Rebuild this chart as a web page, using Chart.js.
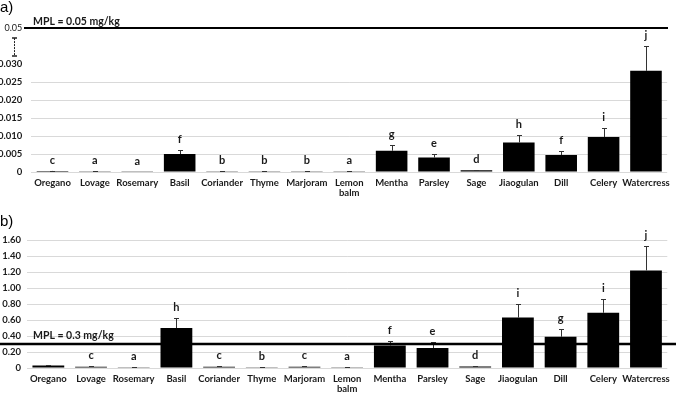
<!DOCTYPE html>
<html>
<head>
<meta charset="utf-8">
<script src="https://cdn.jsdelivr.net/npm/chart.js@4.4.0/dist/chart.umd.min.js"></script>
<style>
  body { margin: 0; background: #fff; width: 676px; height: 394px; overflow: hidden; position: relative; }
  canvas { position: absolute; left: 0; }
  #chartA { top: 0; }
  #chartB { top: 200px; }
</style>
</head>
<body>
<canvas id="chartA" width="676" height="200"></canvas>
<canvas id="chartB" width="676" height="194"></canvas>
<script>
// ====================================================
//  DATA
// ====================================================
const herbs = ["Oregano", "Lovage", "Rosemary", "Basil", "Coriander", "Thyme", "Marjoram",
  ["Lemon", "balm"], "Mentha", "Parsley", "Sage", "Jiaogulan", "Dill", "Celery", "Watercress"];

// a) mg/kg (broken axis: the 0.05 limit sits at 0.04 on the drawn scale)
const valuesA = [0.0003, 0.0001, 0.00005, 0.0050, 0.0002, 0.0002, 0.0002, 0.0001, 0.0059, 0.0040, 0.0005, 0.0082, 0.0047, 0.0097, 0.0281];
const errorsA = [0.0001, 0.0001, 0, 0.0012, 0.0001, 0.0001, 0.0001, 0.0001, 0.0017, 0.0010, 0.0001, 0.0021, 0.0012, 0.0024, 0.0069];
const lettersA = ["c", "a", "a", "f", "b", "b", "b", "a", "g", "e", "d", "h", "f", "i", "j"];
const ticksA = [0, 0.005, 0.010, 0.015, 0.020, 0.025, 0.030, 0.04];
const tickLabelsA = ["0", "0.005", "0.010", "0.015", "0.020", "0.025", "0.030", "0.05"];
const mplPosA = 0.04;
const mplTextA = "MPL = 0.05 mg/kg";

// b) mg/kg
const valuesB = [0.03, 0.016, 0.008, 0.50, 0.015, 0.008, 0.015, 0.008, 0.28, 0.25, 0.02, 0.63, 0.39, 0.69, 1.22];
const errorsB = [0.005, 0.004, 0.002, 0.12, 0.004, 0.003, 0.004, 0.002, 0.06, 0.07, 0.005, 0.17, 0.10, 0.17, 0.31];
const lettersB = ["", "c", "a", "h", "c", "b", "c", "a", "f", "e", "d", "i", "g", "i", "j"];
const ticksB = [0, 0.2, 0.4, 0.6, 0.8, 1.0, 1.2, 1.4, 1.6];
const tickLabelsB = ["0", "0.20", "0.40", "0.60", "0.80", "1.00", "1.20", "1.40", "1.60"];
const mplPosB = 0.3;
const mplTextB = "MPL = 0.3 mg/kg";

// ----------------------------------------------------
const FONT = "Lato, 'Open Sans', sans-serif";
const TXT = "#1a1a1a";
const GRID = "#d9d9d9";

// error bars, letters, MPL line, panel tag
function overlay(o) {
  return {
    id: "overlay",
    afterDatasetsDraw(chart) {
      const ctx = chart.ctx;
      const x = chart.scales.x, y = chart.scales.y;
      const vals = chart.data.datasets[0].data;
      ctx.save();

      ctx.strokeStyle = "#333";
      ctx.lineWidth = 1;
      vals.forEach((v, i) => {
        const e = o.errors[i];
        if (!e) return;
        const cx = Math.round(x.getPixelForValue(i)) + 0.5;
        const y0 = y.getPixelForValue(v);
        const y1 = Math.round(y.getPixelForValue(v + e)) + 0.5;
        ctx.beginPath();
        ctx.moveTo(cx, y0);
        ctx.lineTo(cx, y1);
        ctx.moveTo(cx - 2.5, y1);
        ctx.lineTo(cx + 2.5, y1);
        ctx.stroke();
      });

      ctx.fillStyle = TXT;
      ctx.font = "bold 11px " + FONT;
      ctx.textAlign = "center";
      ctx.textBaseline = "alphabetic";
      vals.forEach((v, i) => {
        if (!o.letters[i]) return;
        const top = y.getPixelForValue(v + (o.errors[i] || 0));
        ctx.fillText(o.letters[i], x.getPixelForValue(i), top - o.letterGap);
      });

      // MPL line
      const my = y.getPixelForValue(o.mplPos);
      ctx.strokeStyle = "#000";
      ctx.lineWidth = o.mplWidth;
      ctx.beginPath();
      ctx.moveTo(o.mplFrom, my);
      ctx.lineTo(o.mplTo, my);
      ctx.stroke();
      ctx.textAlign = "left";
      ctx.font = "bold 10.5px " + FONT;
      ctx.fillText(o.mplText, 33, my - o.mplTextGap);

      // panel tag
      ctx.font = "15px 'Liberation Sans', Arial, sans-serif";
      ctx.fillStyle = "#000";
      ctx.fillText(o.tag, 0, o.tagY);

      // axis break marker
      if (o.breakFrom) {
        const b0 = y.getPixelForValue(o.breakFrom), b1 = y.getPixelForValue(o.breakTo);
        ctx.strokeStyle = "#222";
        ctx.lineWidth = 1;
        ctx.setLineDash([2, 1]);
        ctx.beginPath();
        ctx.moveTo(14.5, b0);
        ctx.lineTo(14.5, b1);
        ctx.stroke();
        ctx.setLineDash([]);
        ctx.lineWidth = 1.5;
        ctx.beginPath();
        ctx.moveTo(12, b0); ctx.lineTo(17, b0);
        ctx.moveTo(12, b1); ctx.lineTo(17, b1);
        ctx.stroke();
      }
      ctx.restore();
    },
  };
}

function makeChart(id, cfg) {
  return new Chart(document.getElementById(id), {
    type: "bar",
    data: {
      labels: herbs,
      datasets: [{
        data: cfg.values,
        backgroundColor: "#000",
        barPercentage: 0.745,
        categoryPercentage: 1,
      }],
    },
    options: {
      responsive: false,
      animation: false,
      devicePixelRatio: 1,
      layout: { padding: cfg.padding },
      plugins: { legend: { display: false }, tooltip: { enabled: false } },
      scales: {
        x: {
          grid: { display: false, drawTicks: false },
          border: { display: false },
          ticks: {
            color: TXT, font: { family: FONT, size: 9.5, weight: "bold", lineHeight: 1.05 },
            padding: cfg.xPad, maxRotation: 0, autoSkip: false,
          },
          afterFit: (s) => { s.height = cfg.xHeight; },
        },
        y: {
          min: 0,
          max: cfg.max,
          border: { display: false },
          grid: {
            drawTicks: false,
            color: (c) => (cfg.hideGrid && c.tick && c.tick.value > 0.026 ? "rgba(0,0,0,0)" : GRID),
          },
          afterBuildTicks: (s) => { s.ticks = cfg.ticks.map((v) => ({ value: v })); },
          ticks: {
            color: TXT,
            padding: cfg.yPad,
            font: (c) => (cfg.hideGrid && c.tick && c.tick.value > 0.035
              ? { family: FONT, size: 9, weight: "normal" }
              : { family: FONT, size: 9.5, weight: "bold" }),
            callback: (v, i) => cfg.tickLabels[i],
          },
          afterFit: (s) => { s.width = cfg.yWidth; },
        },
      },
    },
    plugins: [overlay(cfg.overlay)],
  });
}

makeChart("chartA", {
  values: valuesA, max: 0.04, ticks: ticksA, tickLabels: tickLabelsA, hideGrid: true,
  padding: { left: 0, top: 28, right: 7.5, bottom: 0 },
  yWidth: 31.3, yPad: 9, xHeight: 28, xPad: 6,
  overlay: {
    errors: errorsA, letters: lettersA, letterGap: 7, tag: "a)", tagY: 12,
    mplPos: mplPosA, mplText: mplTextA, mplFrom: 24, mplTo: 668, mplWidth: 2, mplTextGap: 3,
    breakFrom: 0.0372, breakTo: 0.0322,
  },
});

makeChart("chartB", {
  values: valuesB, max: 1.6, ticks: ticksB, tickLabels: tickLabelsB, hideGrid: false,
  padding: { left: 0, top: 40, right: 8, bottom: 0 },
  yWidth: 27, yPad: 6, xHeight: 26, xPad: 6,
  overlay: {
    errors: errorsB, letters: lettersB, letterGap: 7, tag: "b)", tagY: 26,
    mplPos: mplPosB, mplText: mplTextB, mplFrom: 0, mplTo: 676, mplWidth: 2.5, mplTextGap: 5,
  },
});
</script>
</body>
</html>
